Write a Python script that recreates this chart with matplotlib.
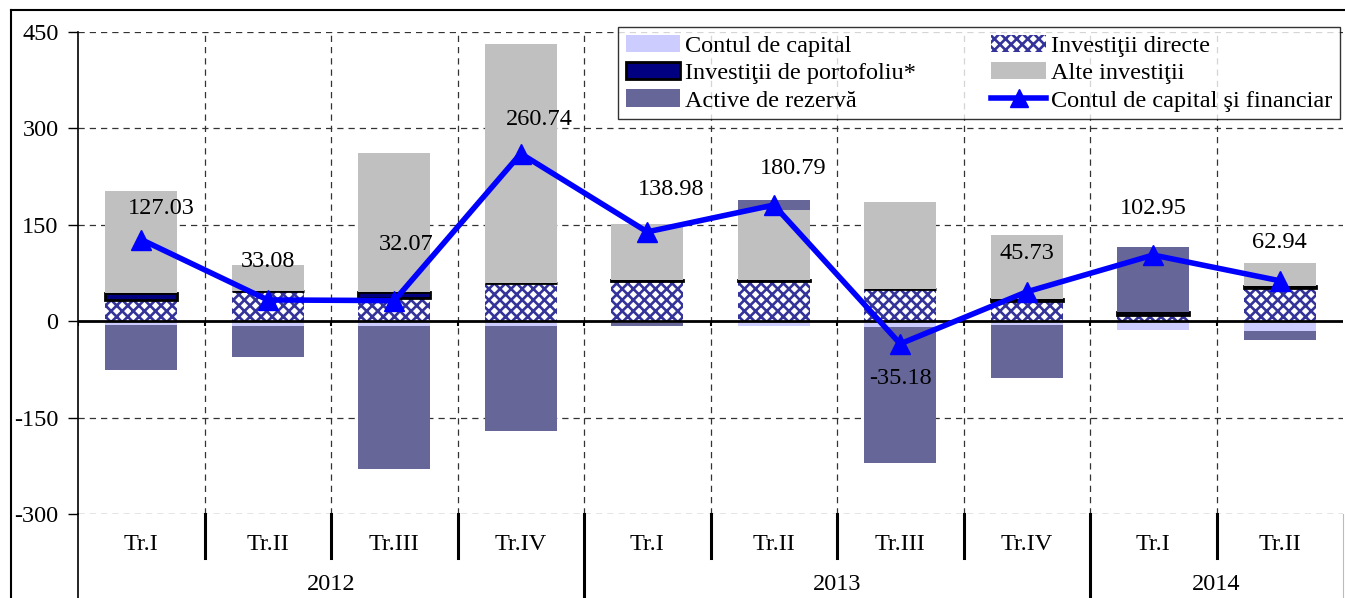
import numpy as np
import matplotlib
matplotlib.use("Agg")
import matplotlib.pyplot as plt
import matplotlib.transforms as mtransforms
from matplotlib.patches import Patch
from matplotlib.lines import Line2D

plt.rcParams['font.family'] = ['Liberation Serif', 'DejaVu Serif']
plt.rcParams['hatch.linewidth'] = 1.9
plt.rcParams['axes.unicode_minus'] = False

quarters = ["Tr.I", "Tr.II", "Tr.III", "Tr.IV", "Tr.I", "Tr.II", "Tr.III", "Tr.IV", "Tr.I", "Tr.II"]
years = ["2012", "2013", "2014"]
year_counts = [4, 4, 2]

# components (mil. euro)
capital = [-6, -7.8, -7.5, -7.5, -2.5, -7.8, -9.3, -6, -13, -14.5]
directe = [32.6, 47, 36.7, 59, 62, 62, 50, 32, 10, 52]
portofoliu = [11, 0, 9.3, 1, 1.5, 1.5, 0.5, 2.5, 5, 3]
alte = [159.5, 41, 215.6, 372, 88.5, 109.6, 135, 100, 0, 36]
rezerva = [-70.5, -47.3, -222, -163, -5, 15.5, -211.7, -82.4, 100.5, -14.5]
total = [127.03, 33.08, 32.07, 260.74, 138.98, 180.79, -35.18, 45.73, 102.95, 62.94]

# label offsets in pixels (dx, dy)
lbl_off = [(20, 31), (0, 38), (12, 56), (19, 34), (24, 42),
           (19, 37), (0, -35), (0, 38), (0, 47), (0, 38)]

FS = 17.5
W, H = 1345, 598
fig = plt.figure(figsize=(W / 100, H / 100), dpi=100)
ax_l, ax_r, ax_t, ax_b = 78, 1343, 32, 514
ax = fig.add_axes([ax_l / W, 1 - ax_b / H, (ax_r - ax_l) / W, (ax_b - ax_t) / H])

x = np.arange(len(quarters))
n = len(x)
bw = 0.57
HATCH = "xxx"

series = [
    (capital, dict(color="#ccccff", lw=0)),
    (directe, dict(facecolor="white", edgecolor="#333399", hatch=HATCH, lw=0)),
    (portofoliu, dict(facecolor="#000080", edgecolor="black", lw=2)),
    (alte, dict(color="#c0c0c0", lw=0)),
    (rezerva, dict(color="#666699", lw=0)),
]
pos = np.zeros(n)
neg = np.zeros(n)
for vals, st in series:
    v = np.array(vals, dtype=float)
    bottom = np.where(v >= 0, pos, neg)
    ax.bar(x, v, bw, bottom=bottom, zorder=2, **st)
    pos = pos + np.where(v >= 0, v, 0)
    neg = neg + np.where(v < 0, v, 0)

ax.plot(x, total, color="#0000ff", lw=4, marker="^", markersize=15, zorder=4)
for i, v in enumerate(total):
    ax.annotate(f"{v:.2f}", (x[i], v), xytext=lbl_off[i], textcoords="offset pixels",
                ha="center", va="center", fontsize=FS, zorder=5)

ax.set_xlim(-0.5, n - 0.5)
ax.set_ylim(-300, 450)
ax.set_yticks([-300, -150, 0, 150, 300, 450])
ax.tick_params(axis="y", direction="out", length=7, width=1, pad=7, labelsize=FS)
ax.set_xticks([])
for s in ["top", "right", "bottom"]:
    ax.spines[s].set_visible(False)
ax.spines["left"].set_linewidth(1.2)

dash = (0, (5, 4))
for yv in [-300, -150, 150, 300, 450]:
    ax.axhline(yv, color="#333333", lw=0.9, ls=dash, zorder=1)
for xb in np.arange(0.5, n - 1, 1.0):
    ax.axvline(xb, color="#333333", lw=0.9, ls=dash, zorder=1)
ax.axhline(0, color="black", lw=2, zorder=3)
ax.vlines(np.arange(-0.5, n - 1, 1.0), -8, 0, color="black", lw=1.5, zorder=3)

# category axis area below the plot
tr = mtransforms.blended_transform_factory(ax.transData, fig.transFigure)
fy = lambda p: 1 - p / H
for i, q in enumerate(quarters):
    ax.text(x[i], fy(545), q, transform=tr, ha="center", va="center", fontsize=FS)
start = 0
bounds = set()
for yr, c in zip(years, year_counts):
    ax.text(start + (c - 1) / 2, fy(584), yr, transform=tr, ha="center", va="center", fontsize=FS)
    bounds.add(start - 0.5)
    start += c
for xb in np.arange(-0.5, n - 1, 1.0):
    if xb in bounds:
        ln = Line2D([xb, xb], [fy(514), fy(600)], transform=tr, color="black", lw=2.2 if xb > 0 else 1.2)
    else:
        ln = Line2D([xb, xb], [fy(514), fy(558)], transform=tr, color="black", lw=2.2)
    ln.set_clip_on(False)
    ax.add_line(ln)
ln = Line2D([n - 0.5, n - 0.5], [fy(514), fy(600)], transform=tr, color="#bbbbbb", lw=0.8)
ln.set_clip_on(False)
ax.add_line(ln)

# chart area frame
fig.add_artist(Line2D([11 / W, 11 / W], [0, fy(10)], color="black", lw=1.5))
fig.add_artist(Line2D([11 / W, 1], [fy(10), fy(10)], color="black", lw=1.5))

handles = [
    Patch(facecolor="#ccccff", lw=0),
    Patch(facecolor="#000080", edgecolor="black", lw=2),
    Patch(facecolor="#666699", lw=0),
    Patch(facecolor="white", edgecolor="#333399", hatch=HATCH, lw=0),
    Patch(facecolor="#c0c0c0", lw=0),
    Line2D([], [], color="#0000ff", lw=4, marker="^", markersize=13),
]
labels = ["Contul de capital", "Investiţii de portofoliu*", "Active de rezervă",
          "Investiţii directe", "Alte investiţii", "Contul de capital şi financiar"]
leg = ax.legend(handles, labels, ncol=2, loc="upper right", bbox_to_anchor=(1340 / W, fy(27)),
                bbox_transform=fig.transFigure, fontsize=FS, frameon=True, fancybox=False,
                edgecolor="black", borderaxespad=0, handlelength=2.25, handletextpad=0.2,
                columnspacing=3.1, labelspacing=0.22, borderpad=0.32, handleheight=0.7)
leg.get_frame().set_linewidth(1.0)
leg.set_zorder(6)

fig.savefig("out.png", dpi=100)
